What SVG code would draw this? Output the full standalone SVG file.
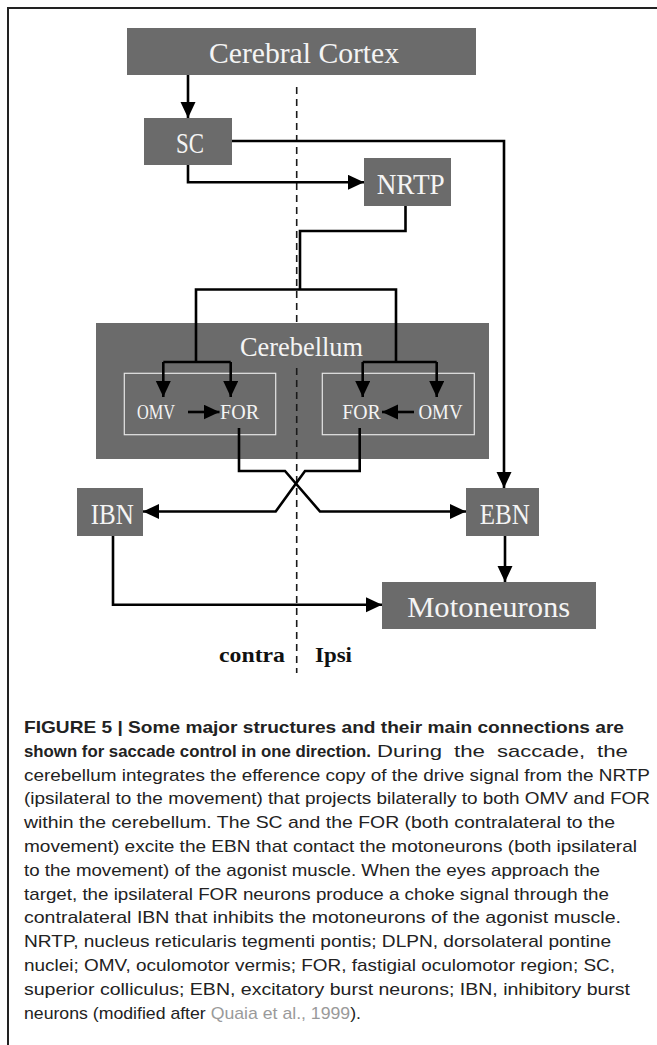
<svg xmlns="http://www.w3.org/2000/svg" width="657" height="1045" viewBox="0 0 657 1045">
<defs>
<style>
.box{fill:#6b6b6b;}
.inner{fill:none;stroke:#e6e6e6;stroke-width:1.2;}
.lbl{font-family:"Liberation Serif",serif;fill:#f4f4f4;text-anchor:middle;}
.big{font-size:30px;}
.mid{font-size:27px;}
.sm{font-size:22px;}
.side{font-family:"Liberation Serif",serif;font-weight:bold;font-size:21px;fill:#111;}
.con{fill:none;stroke:#000;stroke-width:2.6;stroke-linejoin:miter;}
.arr{marker-end:url(#ah);}
.dash{fill:none;stroke:#1a1a1a;stroke-width:1.6;stroke-dasharray:7 5;}
.cap{font-family:"Liberation Sans Narrow","Liberation Sans",sans-serif;font-size:17px;fill:#222;}
.b{font-weight:bold;}
.ref{fill:#9a9a9a;}
</style>
<marker id="ah" markerUnits="userSpaceOnUse" markerWidth="16" markerHeight="16" refX="16" refY="7.5" orient="auto">
<path d="M0,0 L16,7.5 L0,15 z" fill="#000"/>
</marker>
</defs>
<path d="M8,1045 V8 H657" fill="none" stroke="#222" stroke-width="2"/>
<g id="divider">
<path class="dash" d="M296.7,87 V322"/>
<path class="dash" d="M296.7,368 V673"/>
</g>
<g id="cerebellum">
<rect class="box" x="96" y="323" width="393" height="136"/>
<text class="lbl mid" x="301.5" y="356" textLength="123" lengthAdjust="spacingAndGlyphs">Cerebellum</text>
<path class="dash" d="M296.7,368 V459"/>
</g>
<g id="left-group">
<rect class="inner" x="124.3" y="373.3" width="151.4" height="61.4"/>
<text class="lbl sm" x="156" y="419" textLength="38" lengthAdjust="spacingAndGlyphs">OMV</text>
<text class="lbl sm" x="239.5" y="419" textLength="39" lengthAdjust="spacingAndGlyphs">FOR</text>
</g>
<g id="right-group">
<rect class="inner" x="322.3" y="373.3" width="152" height="61.4"/>
<text class="lbl sm" x="361.5" y="419" textLength="38.5" lengthAdjust="spacingAndGlyphs">FOR</text>
<text class="lbl sm" x="440.5" y="419" textLength="44" lengthAdjust="spacingAndGlyphs">OMV</text>
</g>
<g id="cortex">
<rect class="box" x="127" y="28" width="349" height="47"/>
<text class="lbl big" x="304" y="63" textLength="190" lengthAdjust="spacingAndGlyphs">Cerebral Cortex</text>
</g>
<g id="sc">
<rect class="box" x="144" y="118" width="88" height="47"/>
<text class="lbl big" x="190" y="153" textLength="28" lengthAdjust="spacingAndGlyphs">SC</text>
</g>
<g id="nrtp">
<rect class="box" x="364" y="158" width="87" height="48"/>
<text class="lbl big" x="410.7" y="194" textLength="68" lengthAdjust="spacingAndGlyphs">NRTP</text>
</g>
<g id="ibn">
<rect class="box" x="77" y="488" width="66" height="48"/>
<text class="lbl big" x="112.3" y="523.5" textLength="43" lengthAdjust="spacingAndGlyphs">IBN</text>
</g>
<g id="ebn">
<rect class="box" x="466" y="488" width="73" height="48"/>
<text class="lbl big" x="504.8" y="524" textLength="50" lengthAdjust="spacingAndGlyphs">EBN</text>
</g>
<g id="motoneurons">
<rect class="box" x="382" y="582" width="214" height="47"/>
<text class="lbl big" x="488.7" y="617" textLength="163" lengthAdjust="spacingAndGlyphs">Motoneurons</text>
</g>
<g id="connectors">
<path class="con arr" d="M188,75 V118"/>
<path class="con arr" d="M232,141 H504 V488"/>
<path class="con arr" d="M188,165 V182.3 H364"/>
<path class="con" d="M405.5,206 V231 H300 V289.5"/>
<path class="con" d="M196,362 V289.5 H396 V362"/>
<path class="con" d="M163.3,362 H230.7"/>
<path class="con arr" d="M163.3,362 V397"/>
<path class="con arr" d="M230.7,362 V397"/>
<path class="con" d="M362.7,362 H436.7"/>
<path class="con arr" d="M362.7,362 V397"/>
<path class="con arr" d="M436.7,362 V397"/>
<path class="con arr" d="M188,412 H219.5"/>
<path class="con arr" d="M414,412 H382"/>
<path class="con arr" d="M239,428 V471 H285 L320,511.5 H466"/>
<path class="con arr" d="M359.7,428 V471 H305 L275.7,511.5 H143"/>
<path class="con arr" d="M113,536 V604.7 H382"/>
<path class="con arr" d="M505,536 V582"/>
</g>
<g id="sides">
<text class="side" x="219" y="661.5" textLength="66" lengthAdjust="spacingAndGlyphs">contra</text>
<text class="side" x="315" y="661.5" textLength="37" lengthAdjust="spacingAndGlyphs">Ipsi</text>
</g>
<g id="caption">
<text class="cap b" x="24" y="733" textLength="600" lengthAdjust="spacingAndGlyphs">FIGURE 5 | Some major structures and their main connections are</text>
<text class="cap b" x="24" y="756.8" textLength="347" lengthAdjust="spacingAndGlyphs">shown for saccade control in one direction.</text>
<text class="cap" x="377" y="756.8" textLength="65" lengthAdjust="spacingAndGlyphs">During</text>
<text class="cap" x="454" y="756.8" textLength="31" lengthAdjust="spacingAndGlyphs">the</text>
<text class="cap" x="497" y="756.8" textLength="88" lengthAdjust="spacingAndGlyphs">saccade,</text>
<text class="cap" x="597" y="756.8" textLength="31" lengthAdjust="spacingAndGlyphs">the</text>
<text class="cap" x="24" y="780.6" textLength="626" lengthAdjust="spacingAndGlyphs">cerebellum integrates the efference copy of the drive signal from the NRTP</text>
<text class="cap" x="24" y="804.4" textLength="626" lengthAdjust="spacingAndGlyphs">(ipsilateral to the movement) that projects bilaterally to both OMV and FOR</text>
<text class="cap" x="24" y="828.2" textLength="591" lengthAdjust="spacingAndGlyphs">within the cerebellum. The SC and the FOR (both contralateral to the</text>
<text class="cap" x="24" y="852" textLength="613" lengthAdjust="spacingAndGlyphs">movement) excite the EBN that contact the motoneurons (both ipsilateral</text>
<text class="cap" x="24" y="875.8" textLength="576" lengthAdjust="spacingAndGlyphs">to the movement) of the agonist muscle. When the eyes approach the</text>
<text class="cap" x="24" y="899.6" textLength="585" lengthAdjust="spacingAndGlyphs">target, the ipsilateral FOR neurons produce a choke signal through the</text>
<text class="cap" x="24" y="923.4" textLength="597" lengthAdjust="spacingAndGlyphs">contralateral IBN that inhibits the motoneurons of the agonist muscle.</text>
<text class="cap" x="24" y="947.2" textLength="587" lengthAdjust="spacingAndGlyphs">NRTP, nucleus reticularis tegmenti pontis; DLPN, dorsolateral pontine</text>
<text class="cap" x="24" y="971" textLength="591" lengthAdjust="spacingAndGlyphs">nuclei; OMV, oculomotor vermis; FOR, fastigial oculomotor region; SC,</text>
<text class="cap" x="24" y="994.8" textLength="606" lengthAdjust="spacingAndGlyphs">superior colliculus; EBN, excitatory burst neurons; IBN, inhibitory burst</text>
<text class="cap" x="24" y="1018.6" textLength="337" lengthAdjust="spacingAndGlyphs">neurons (modified after <tspan class="ref">Quaia et al., 1999</tspan>).</text>
</g>
</svg>
